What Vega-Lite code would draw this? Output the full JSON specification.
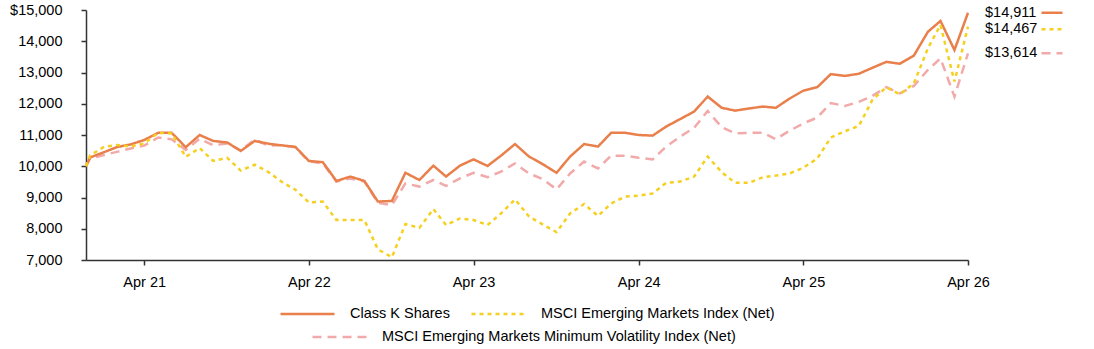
{
  "$schema": "https://vega.github.io/schema/vega-lite/v6.json",
  "width": 882,
  "height": 250,
  "autosize": {"type": "none"},
  "padding": {"left": 86, "top": 10, "right": 126, "bottom": 89},
  "config": {
    "font": "Liberation Sans",
    "view": {"stroke": null},
    "axis": {"labelFont": "Liberation Sans", "labelFontSize": 14.5, "labelColor": "#000000", "domainColor": "#333333", "tickColor": "#333333", "domainWidth": 1.5, "tickWidth": 1.5, "grid": false, "title": null},
    "legend": {"labelFont": "Liberation Sans", "labelFontSize": 14.5, "labelColor": "#000000", "labelLimit": 0}
  },
  "data": {
    "values": [
      {"date": "2020-12-22", "K": 10000, "EM": 10000, "MV": 10000},
      {"date": "2020-12-31", "K": 10280, "EM": 10350, "MV": 10250},
      {"date": "2021-01-31", "K": 10450, "EM": 10620, "MV": 10360},
      {"date": "2021-02-28", "K": 10610, "EM": 10680, "MV": 10460},
      {"date": "2021-03-31", "K": 10700, "EM": 10630, "MV": 10570},
      {"date": "2021-04-30", "K": 10840, "EM": 10730, "MV": 10660},
      {"date": "2021-05-31", "K": 11070, "EM": 11070, "MV": 10920},
      {"date": "2021-06-30", "K": 11070, "EM": 11050, "MV": 10860},
      {"date": "2021-07-31", "K": 10610, "EM": 10300, "MV": 10520},
      {"date": "2021-08-31", "K": 11000, "EM": 10580, "MV": 10880},
      {"date": "2021-09-30", "K": 10810, "EM": 10170, "MV": 10670},
      {"date": "2021-10-31", "K": 10760, "EM": 10270, "MV": 10730},
      {"date": "2021-11-30", "K": 10490, "EM": 9860, "MV": 10510},
      {"date": "2021-12-31", "K": 10810, "EM": 10050, "MV": 10850},
      {"date": "2022-01-31", "K": 10720, "EM": 9810, "MV": 10660},
      {"date": "2022-02-28", "K": 10670, "EM": 9510, "MV": 10670},
      {"date": "2022-03-31", "K": 10620, "EM": 9250, "MV": 10610},
      {"date": "2022-04-30", "K": 10170, "EM": 8840, "MV": 10160},
      {"date": "2022-05-31", "K": 10130, "EM": 8870, "MV": 10090},
      {"date": "2022-06-30", "K": 9530, "EM": 8280, "MV": 9510},
      {"date": "2022-07-31", "K": 9670, "EM": 8280, "MV": 9610},
      {"date": "2022-08-31", "K": 9530, "EM": 8280, "MV": 9510},
      {"date": "2022-09-30", "K": 8870, "EM": 7340, "MV": 8830},
      {"date": "2022-10-31", "K": 8890, "EM": 7090, "MV": 8760},
      {"date": "2022-11-30", "K": 9790, "EM": 8150, "MV": 9450},
      {"date": "2022-12-31", "K": 9560, "EM": 8030, "MV": 9350},
      {"date": "2023-01-31", "K": 10020, "EM": 8630, "MV": 9560},
      {"date": "2023-02-28", "K": 9670, "EM": 8120, "MV": 9370},
      {"date": "2023-03-31", "K": 10020, "EM": 8330, "MV": 9610},
      {"date": "2023-04-30", "K": 10220, "EM": 8280, "MV": 9790},
      {"date": "2023-05-31", "K": 10010, "EM": 8120, "MV": 9650},
      {"date": "2023-06-30", "K": 10340, "EM": 8490, "MV": 9830},
      {"date": "2023-07-31", "K": 10710, "EM": 8940, "MV": 10090},
      {"date": "2023-08-31", "K": 10310, "EM": 8390, "MV": 9770},
      {"date": "2023-09-30", "K": 10070, "EM": 8140, "MV": 9590},
      {"date": "2023-10-31", "K": 9790, "EM": 7890, "MV": 9260},
      {"date": "2023-11-30", "K": 10310, "EM": 8490, "MV": 9770},
      {"date": "2023-12-31", "K": 10710, "EM": 8790, "MV": 10150},
      {"date": "2024-01-31", "K": 10630, "EM": 8410, "MV": 9930},
      {"date": "2024-02-29", "K": 11070, "EM": 8810, "MV": 10340},
      {"date": "2024-03-31", "K": 11070, "EM": 9030, "MV": 10340},
      {"date": "2024-04-30", "K": 11000, "EM": 9060, "MV": 10270},
      {"date": "2024-05-31", "K": 10980, "EM": 9130, "MV": 10220},
      {"date": "2024-06-30", "K": 11270, "EM": 9470, "MV": 10630},
      {"date": "2024-07-31", "K": 11510, "EM": 9510, "MV": 10950},
      {"date": "2024-08-31", "K": 11750, "EM": 9670, "MV": 11230},
      {"date": "2024-09-30", "K": 12230, "EM": 10310, "MV": 11770},
      {"date": "2024-10-31", "K": 11870, "EM": 9810, "MV": 11250},
      {"date": "2024-11-30", "K": 11780, "EM": 9470, "MV": 11050},
      {"date": "2024-12-31", "K": 11850, "EM": 9470, "MV": 11070},
      {"date": "2025-01-31", "K": 11910, "EM": 9650, "MV": 11070},
      {"date": "2025-02-28", "K": 11870, "EM": 9700, "MV": 10870},
      {"date": "2025-03-31", "K": 12170, "EM": 9770, "MV": 11140},
      {"date": "2025-04-30", "K": 12420, "EM": 9950, "MV": 11370},
      {"date": "2025-05-31", "K": 12530, "EM": 10250, "MV": 11560},
      {"date": "2025-06-30", "K": 12950, "EM": 10920, "MV": 12020},
      {"date": "2025-07-31", "K": 12890, "EM": 11120, "MV": 11930},
      {"date": "2025-08-31", "K": 12960, "EM": 11290, "MV": 12060},
      {"date": "2025-09-30", "K": 13150, "EM": 12120, "MV": 12250},
      {"date": "2025-10-31", "K": 13340, "EM": 12530, "MV": 12530},
      {"date": "2025-11-30", "K": 13280, "EM": 12300, "MV": 12330},
      {"date": "2025-12-31", "K": 13540, "EM": 12650, "MV": 12570},
      {"date": "2026-01-31", "K": 14300, "EM": 13770, "MV": 13080},
      {"date": "2026-02-28", "K": 14650, "EM": 14520, "MV": 13450},
      {"date": "2026-03-31", "K": 13720, "EM": 12710, "MV": 12230},
      {"date": "2026-04-30", "K": 14911, "EM": 14467, "MV": 13614}
    ]
  },
  "transform": [
    {"fold": ["K", "EM", "MV"], "as": ["key", "value"]},
    {"lookup": "key", "from": {"data": {"values": [
      {"key": "K", "series": "Class K Shares"},
      {"key": "EM", "series": "MSCI Emerging Markets Index (Net)"},
      {"key": "MV", "series": "MSCI Emerging Markets Minimum Volatility Index (Net)"}
    ]}, "key": "key", "fields": ["series"]}}
  ],
  "encoding": {
    "x": {
      "field": "date", "type": "temporal",
      "scale": {"type": "utc", "domain": [{"year": 2020, "month": 12, "date": 22, "utc": true}, {"year": 2026, "month": 4, "date": 30, "utc": true}]},
      "axis": {
        "values": [
          {"year": 2021, "month": 4, "date": 30, "utc": true},
          {"year": 2022, "month": 4, "date": 30, "utc": true},
          {"year": 2023, "month": 4, "date": 30, "utc": true},
          {"year": 2024, "month": 4, "date": 30, "utc": true},
          {"year": 2025, "month": 4, "date": 30, "utc": true},
          {"year": 2026, "month": 4, "date": 30, "utc": true}
        ],
        "format": "%b %y", "labelFlush": false, "tickSize": 5, "labelPadding": 10, "labelOverlap": false
      }
    },
    "y": {
      "field": "value", "type": "quantitative",
      "scale": {"domain": [7000, 15000], "nice": false, "zero": false},
      "axis": {
        "values": [7000, 8000, 9000, 10000, 11000, 12000, 13000, 14000, 15000],
        "labelExpr": "datum.value == 15000 ? '$15,000' : format(datum.value, ',')",
        "labelFlush": false, "tickSize": 5, "labelPadding": 19
      }
    }
  },
  "layer": [
    {
      "transform": [{"filter": "datum.key == 'MV'"}],
      "mark": {"type": "line", "strokeWidth": 2.5, "strokeDash": [9, 6]},
      "encoding": {
        "stroke": {
          "field": "series", "type": "nominal",
          "scale": {"domain": ["MSCI Emerging Markets Minimum Volatility Index (Net)"], "range": ["#F2A9A9"]},
          "legend": {"title": null, "orient": "none", "legendX": 225, "legendY": 319, "direction": "horizontal", "symbolType": "stroke", "symbolSize": 2916, "symbolStrokeWidth": 2.5, "symbolDash": [9, 6], "labelOffset": 14, "clipHeight": 16, "labelLimit": 0}
        }
      }
    },
    {
      "transform": [{"filter": "datum.key != 'MV'"}],
      "mark": {"type": "line", "strokeWidth": 2.5},
      "encoding": {
        "color": {
          "field": "series", "type": "nominal",
          "scale": {"domain": ["Class K Shares", "MSCI Emerging Markets Index (Net)"], "range": ["#E97F4A", "#F5D020"]},
          "legend": {"title": null, "orient": "none", "legendX": 193, "legendY": 296, "direction": "horizontal", "symbolType": "stroke", "symbolSize": 2916, "symbolStrokeWidth": 2.5, "labelOffset": 14, "clipHeight": 16, "columnPadding": 20, "labelLimit": 0}
        },
        "strokeDash": {
          "field": "series", "type": "nominal",
          "scale": {"domain": ["Class K Shares", "MSCI Emerging Markets Index (Net)"], "range": [[1, 0], [4, 4]]},
          "legend": {"title": null, "orient": "none", "legendX": 193, "legendY": 296, "direction": "horizontal", "symbolType": "stroke", "symbolSize": 2916, "symbolStrokeWidth": 2.5, "labelOffset": 14, "clipHeight": 16, "columnPadding": 20, "labelLimit": 0}
        }
      }
    },
    {
      "transform": [{"filter": "utcyear(datum.date) === 2026 && utcmonth(datum.date) === 3 && datum.key != 'EM'"}],
      "mark": {"type": "text", "align": "left", "baseline": "middle", "dx": 17, "fontSize": 14.5, "font": "Liberation Sans", "color": "#000000"},
      "encoding": {"text": {"field": "value", "type": "quantitative", "format": "$,.0f"}}
    },
    {
      "transform": [{"filter": "utcyear(datum.date) === 2026 && utcmonth(datum.date) === 3 && datum.key == 'EM'"}],
      "mark": {"type": "text", "align": "left", "baseline": "middle", "dx": 17, "dy": 2.5, "fontSize": 14.5, "font": "Liberation Sans", "color": "#000000"},
      "encoding": {"text": {"field": "value", "type": "quantitative", "format": "$,.0f"}}
    },
    {
      "transform": [{"filter": "utcyear(datum.date) === 2026 && utcmonth(datum.date) === 3 && datum.key == 'K'"}],
      "mark": {"type": "point", "shape": "M-1,0L1,0", "size": 441, "filled": false, "stroke": "#E97F4A", "strokeWidth": 2.5, "opacity": 1},
      "encoding": {"xOffset": {"value": 84}}
    },
    {
      "transform": [{"filter": "utcyear(datum.date) === 2026 && utcmonth(datum.date) === 3 && datum.key == 'EM'"}],
      "mark": {"type": "point", "shape": "M-1,0L1,0", "size": 441, "filled": false, "stroke": "#F5D020", "strokeWidth": 2.5, "strokeDash": [4, 4], "opacity": 1},
      "encoding": {"xOffset": {"value": 84}, "yOffset": {"value": 2.5}}
    },
    {
      "transform": [{"filter": "utcyear(datum.date) === 2026 && utcmonth(datum.date) === 3 && datum.key == 'MV'"}],
      "mark": {"type": "point", "shape": "M-1,0L1,0", "size": 441, "filled": false, "stroke": "#F2A9A9", "strokeWidth": 2.5, "strokeDash": [9, 6], "opacity": 1},
      "encoding": {"xOffset": {"value": 84}}
    }
  ]
}
